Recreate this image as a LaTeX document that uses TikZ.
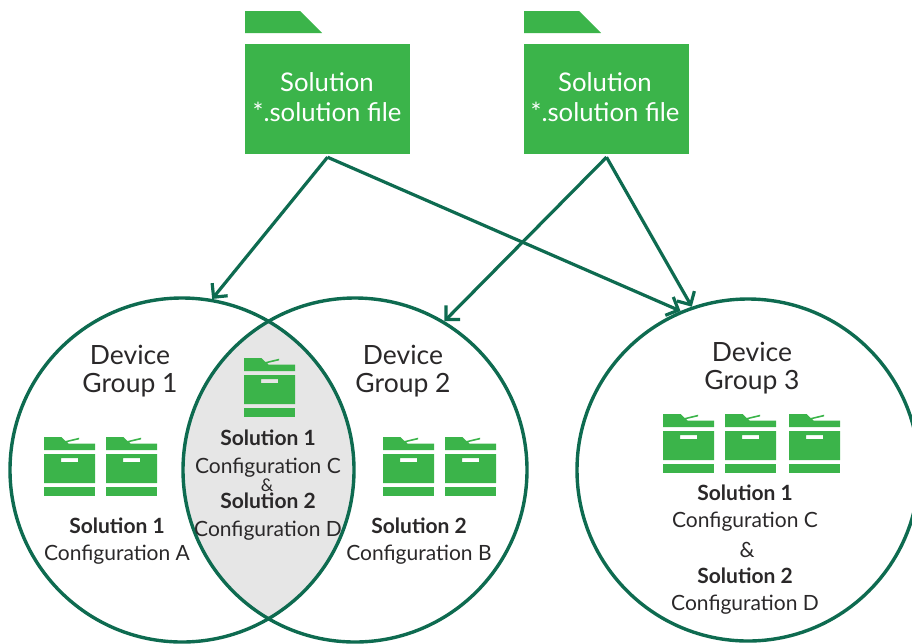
\documentclass[tikz,border=0pt]{standalone}
\usepackage{fontspec}
\setmainfont{Lato}
\usetikzlibrary{arrows.meta}
\definecolor{leaf}{HTML}{3BB44A}
\definecolor{pine}{HTML}{0E6B50}
\definecolor{ink}{HTML}{2A2829}
\definecolor{lens}{HTML}{E6E6E6}
\tikzset{
  x=1pt,y=-1pt,
  folderbox/.style={fill=leaf,minimum width=165pt,minimum height=110pt,inner sep=0pt},
  foldertext/.style={text=white,inner sep=0pt,font=\fontsize{25.7}{30}\selectfont,align=center},
  groupring/.style={circle,draw=pine,line width=3.4pt,minimum size=344pt,inner sep=0pt},
  link/.style={draw=pine,line width=3.2pt,-{Straight Barb[length=10pt,width=20pt,line width=3.2pt]}},
  lbl/.style={text=ink,inner sep=0pt,font=\fontsize{21}{24}\selectfont},
  amp/.style={text=ink,inner sep=0pt,font=\fontsize{17.5}{20}\selectfont},
  boldlbl/.style={text=ink,inner sep=0pt,font=\fontsize{21}{24}\selectfont\bfseries},
  captext/.style={text=ink,inner sep=0pt,font=\fontsize{26.5}{30}\selectfont},
  printer/.pic={
    \fill[leaf] (0,0)--(17.5,0)--(21.5,4)--(35,0.7)--(35,2.4)--(23,5.2)--(24.5,6.5)--(51,6.5)--(51,13)--(0,13)--cycle;
    \fill[leaf,even odd rule] (0,17)--(51,17)--(51,46)--(0,46)--cycle (17,21)--(34,21)--(34,25)--(17,25)--cycle;
    \fill[leaf] (0,50)--(51,50)--(51,59)--(0,59)--cycle;
  },
  foldertab/.pic={\fill[leaf] (0,0)--(55,0)--(77,22)--(0,22)--cycle;}
}
\begin{document}
\begin{tikzpicture}
\useasboundingbox (0,0) rectangle (912,643);
% lens
\begin{scope}
  \clip (182,470) circle[radius=172];
  \fill[lens] (355,470) circle[radius=172];
\end{scope}
\node[groupring] (g1) at (182,470) {};
\node[groupring] (g2) at (355,470) {};
\node[groupring,minimum size=342pt] (g3) at (748,470) {};
% folders
\pic at (245,11) {foldertab};
\pic at (524,11) {foldertab};
\node[folderbox] (f1) at (327.5,99) {};
\node[folderbox] (f2) at (606.5,99) {};
\node[foldertext] (f1t) at (327,97) {Solution\\*.solution file};
\node[foldertext] (f2t) at (605,97) {Solution\\*.solution file};
\coordinate (p1) at ([yshift=-3pt]f1.south);
\coordinate (p2) at ([yshift=-3pt]f2.south);
% connectors
\draw[link] (p1) -- (g1.80);
\draw[link] (p1) -- (g3.113.5);
\draw[link] (p2) -- (g2.59);
\draw[link] (p2) -- (g3.109);
% printers
\pic at (44,437) {printer};
\pic at (106,437) {printer};
\pic at (244,358) {printer};
\pic at (383,437) {printer};
\pic at (445,437) {printer};
\pic at (663,414) {printer};
\pic at (725,414) {printer};
\pic at (789,414) {printer};
% group 1
\node[captext] (t1a) at (130,355) {Device};
\node[captext] (t1b) at (130,385) {Group 1};
\node[boldlbl] (t1c) at (117,526) {Solution 1};
\node[lbl] (t1d) at (117,555) {Configuration A};
% lens text
\node[boldlbl] (tla) at (268,438) {Solution 1};
\node[lbl] (tlb) at (268,468) {Configuration C};
\node[amp] (tlc) at (267,485) {\&};
\node[boldlbl] (tld) at (268,501) {Solution 2};
\node[lbl] (tle) at (268,531) {Configuration D};
% group 2
\node[captext] (t2a) at (403,355) {Device};
\node[captext] (t2b) at (403,385) {Group 2};
\node[boldlbl] (t2c) at (419,526) {Solution 2};
\node[lbl] (t2d) at (419,555) {Configuration B};
% group 3
\node[captext] (t3a) at (752,352) {Device};
\node[captext] (t3b) at (752,382) {Group 3};
\node[boldlbl] (t3c) at (745,493) {Solution 1};
\node[lbl] (t3d) at (745,522) {Configuration C};
\node[lbl] (t3e) at (747,550) {\&};
\node[boldlbl] (t3f) at (745,576) {Solution 2};
\node[lbl] (t3g) at (745,605) {Configuration D};
\end{tikzpicture}
\end{document}
